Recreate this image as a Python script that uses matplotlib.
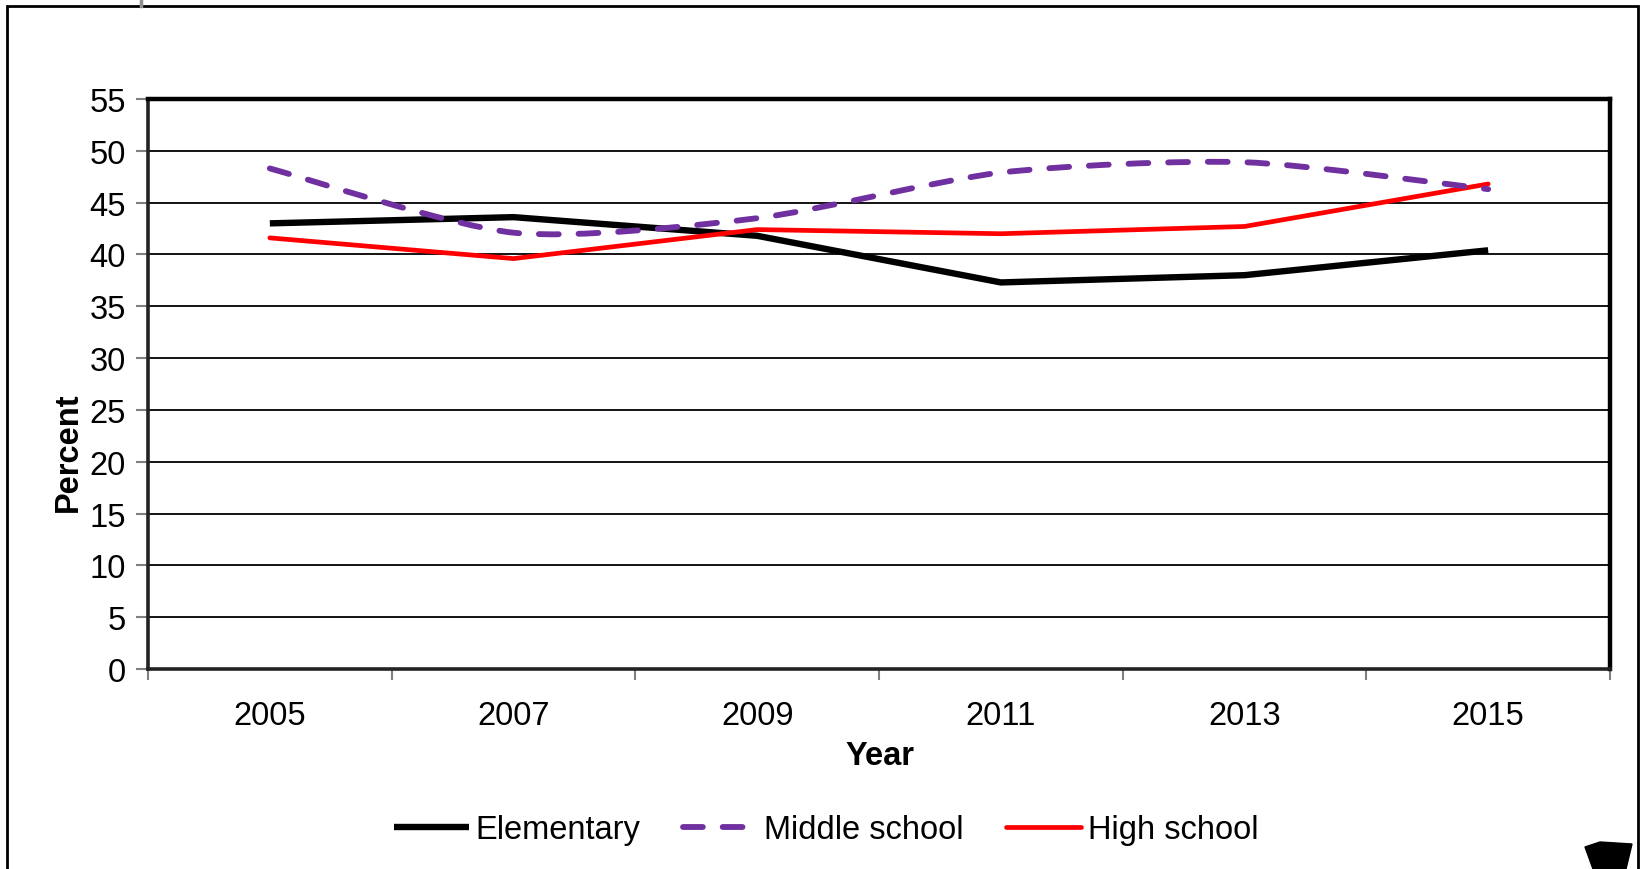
import matplotlib
matplotlib.use("Agg")
import matplotlib.pyplot as plt
from matplotlib.path import Path
from matplotlib.patches import PathPatch, Rectangle, Polygon
from matplotlib.lines import Line2D
import numpy as np

plt.rcParams['font.family'] = ['Liberation Sans', 'DejaVu Sans']

years = ['2005', '2007', '2009', '2011', '2013', '2015']
elementary = [43.0, 43.6, 41.8, 37.3, 38.0, 40.4]
middle = [48.3, 42.1, 43.5, 47.9, 48.9, 46.3]
high = [41.6, 39.6, 42.4, 42.0, 42.7, 46.8]
yticks = list(range(0, 56, 5))

W, H = 1646, 870
FS = 23.5
fig = plt.figure(figsize=(W / 100, H / 100), dpi=100)

def fx(px):
    return px / W

def fy(py):
    return 1 - py / H

ax = fig.add_axes([fx(148), fy(670), fx(1610) - fx(148), fy(100) - fy(670)])
x = np.arange(len(years))

ax.set_xlim(-0.5, len(years) - 0.5)
ax.set_ylim(0, 55)
ax.set_yticks(yticks)
ax.set_yticklabels([str(t) for t in yticks])
ax.yaxis.grid(True, color='black', linewidth=1.3)
ax.set_axisbelow(True)

ax.set_xticks(x)
ax.set_xticklabels(years)
ax.set_xticks(np.arange(-0.5, len(years), 1.0), minor=True)
ax.tick_params(axis='x', which='major', length=0, pad=22, labelsize=FS)
ax.tick_params(axis='x', which='minor', length=8, width=1.5, color='#808080', direction='out')
ax.tick_params(axis='y', length=9, width=1.5, color='#808080', direction='out', pad=7, labelsize=FS)

for s in ['top', 'right']:
    ax.spines[s].set_linewidth(3.2)
    ax.spines[s].set_color('black')
for s in ['left', 'bottom']:
    ax.spines[s].set_linewidth(2.6)
    ax.spines[s].set_color('#222222')

# Elementary
ax.plot(x, elementary, color='black', linewidth=4.6, solid_capstyle='butt', solid_joinstyle='miter', zorder=3)
# High school
ax.plot(x, high, color='#FF0000', linewidth=3.4, solid_capstyle='round', zorder=4)

# Middle school: smoothed bezier through the data points
pts = np.column_stack([x, middle]).astype(float)
verts = [tuple(pts[0])]
codes = [Path.MOVETO]
n = len(pts)
T = 8.0
for i in range(n - 1):
    p0 = pts[i - 1] if i > 0 else pts[i]
    p1 = pts[i]
    p2 = pts[i + 1]
    p3 = pts[i + 2] if i + 2 < n else pts[i + 1]
    c1 = p1 + (p2 - p0) / T
    c2 = p2 - (p3 - p1) / T
    verts += [tuple(c1), tuple(c2), tuple(p2)]
    codes += [Path.CURVE4] * 3
mpath = Path(verts, codes)
DASH = (0, (3.4, 3.4))
patch = PathPatch(mpath, fill=False, edgecolor='#7030A0', linewidth=4.2,
                  linestyle=DASH, capstyle='round', zorder=5)
ax.add_patch(patch)

# axis labels
fig.text(fx(880), fy(757), 'Year', fontsize=FS, fontweight='bold', ha='center', va='center')
fig.text(fx(68), fy(452), 'Percent', fontsize=FS, fontweight='bold', ha='center', va='center', rotation=90)

# legend
handles = [
    Line2D([], [], color='black', linewidth=4.6, solid_capstyle='butt'),
    Line2D([], [], color='#7030A0', linewidth=4.2, linestyle=DASH, dash_capstyle='round'),
    Line2D([], [], color='#FF0000', linewidth=3.4, solid_capstyle='round'),
]
labels = ['Elementary', 'Middle school', 'High school']
fig.legend(handles, labels, loc='center', bbox_to_anchor=(fx(826), fy(831)), ncol=3,
           frameon=False, fontsize=FS, handlelength=2.3, handletextpad=0.2,
           columnspacing=1.3, borderaxespad=0)

# outer frame
fig.patches.append(Rectangle((fx(7), fy(900)), fx(1638) - fx(7), fy(7) - fy(900),
                             transform=fig.transFigure, fill=False, edgecolor='black',
                             linewidth=2.0, clip_on=False))
fig.lines.append(Line2D([fx(141), fx(141)], [fy(0), fy(7)], transform=fig.transFigure,
                        color='#909090', linewidth=2.5))
# small cap icon at bottom right
cap = [(1585, 848), (1600, 843), (1632, 845), (1626, 870), (1593, 870)]
fig.patches.append(Polygon([(fx(a), fy(b)) for a, b in cap], closed=True,
                           transform=fig.transFigure, facecolor='black', edgecolor='black'))

fig.savefig('out.png', dpi=100)
